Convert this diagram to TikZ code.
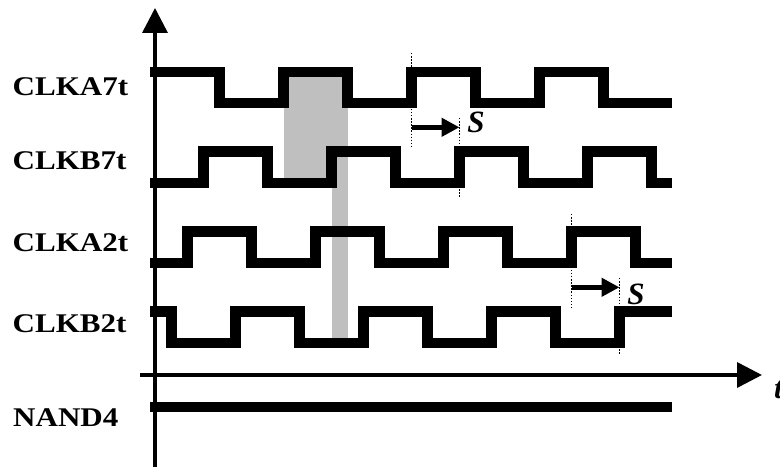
\documentclass[tikz,border=0pt]{standalone}
\usepackage{fontspec}
\setmainfont{Liberation Serif}
\usepackage{graphicx}
\usetikzlibrary{arrows.meta}
\newcommand{\widelbl}[1]{\scalebox{1.15}[1]{#1}}

\begin{document}
\begin{tikzpicture}[x=1pt,y=-1pt,
  sig/.style={line width=10.7pt},
  axisline/.style={line width=3.5pt,-{Triangle[length=25pt,width=25pt]}},
  dotline/.style={line width=1.8pt,dash pattern=on 1.5pt off 1.6pt},
  delay/.style={line width=4.5pt,-{Triangle[length=18pt,width=18pt]}},
  lbl/.style={anchor=west,inner sep=0pt,font=\fontsize{27}{27}\selectfont\bfseries},
  skewlbl/.style={inner sep=0pt,font=\fontsize{31}{31}\selectfont\bfseries\itshape}]
  \useasboundingbox (0,0) rectangle (780,470);

  \fill[black!25] (283.5,72) rectangle (347.5,183);
  \fill[black!25] (331.5,151.5) rectangle (347.5,343);

  \coordinate (yb) at (155,467);
  \coordinate (yt) at (155,8);
  \coordinate (xl) at (140,375);
  \coordinate (xr) at (762,375);
  \draw[axisline] (yb) -- (yt);
  \draw[axisline] (xl) -- (xr);

  \draw[dotline] (411.5,53) -- (411.5,148);
  \draw[dotline] (459.5,118) -- (459.5,197);
  \draw[dotline] (571.5,214) -- (571.5,308);
  \draw[dotline] (619.5,278) -- (619.5,355);

  \draw[sig] (150,72) -| (219.5,103) -| (283.5,72) -| (347.5,103) -| (411.5,72)
    -| (475.5,103) -| (539.5,72) -| (603.5,103) -- (672,103);
  \draw[sig] (150,183) -| (203.5,151.5) -| (267.5,183) -| (331.5,151.5) -| (395.5,183)
    -| (459.5,151.5) -| (523.5,183) -| (587.5,151.5) -| (651.5,183) -- (672,183);
  \draw[sig] (150,263) -| (187.5,231.5) -| (251.5,263) -| (315.5,231.5) -| (379.5,263)
    -| (443.5,231.5) -| (507.5,263) -| (571.5,231.5) -| (635.5,263) -- (672,263);
  \draw[sig] (150,311.5) -| (171.5,343) -| (235.5,311.5) -| (299.5,343) -| (363.5,311.5)
    -| (427.5,343) -| (491.5,311.5) -| (555.5,343) -| (619.5,311.5) -- (672,311.5);
  \draw[sig] (150,407) -- (672,407);

  \node[lbl] (a7) at (12.5,87) {\widelbl{CLKA7t}};
  \node[lbl] (b7) at (12.5,161) {\widelbl{CLKB7t}};
  \node[lbl] (a2) at (12.5,243) {\widelbl{CLKA2t}};
  \node[lbl] (b2) at (12.5,324) {\widelbl{CLKB2t}};
  \node[lbl] (nand) at (13,418) {\widelbl{NAND4}};

  \coordinate (d1a) at (411.5,127.3);
  \coordinate (d1b) at (459.5,127.3);
  \coordinate (d2a) at (571.5,287.3);
  \coordinate (d2b) at (619.5,287.3);
  \draw[delay] (d1a) -- (d1b);
  \draw[delay] (d2a) -- (d2b);
  \node[skewlbl] (s1) at (476,122.5) {S};
  \node[skewlbl] (s2) at (636,294) {S};
  \node[skewlbl,anchor=base west] (t) at (774,399) {t};
\end{tikzpicture}
\end{document}
